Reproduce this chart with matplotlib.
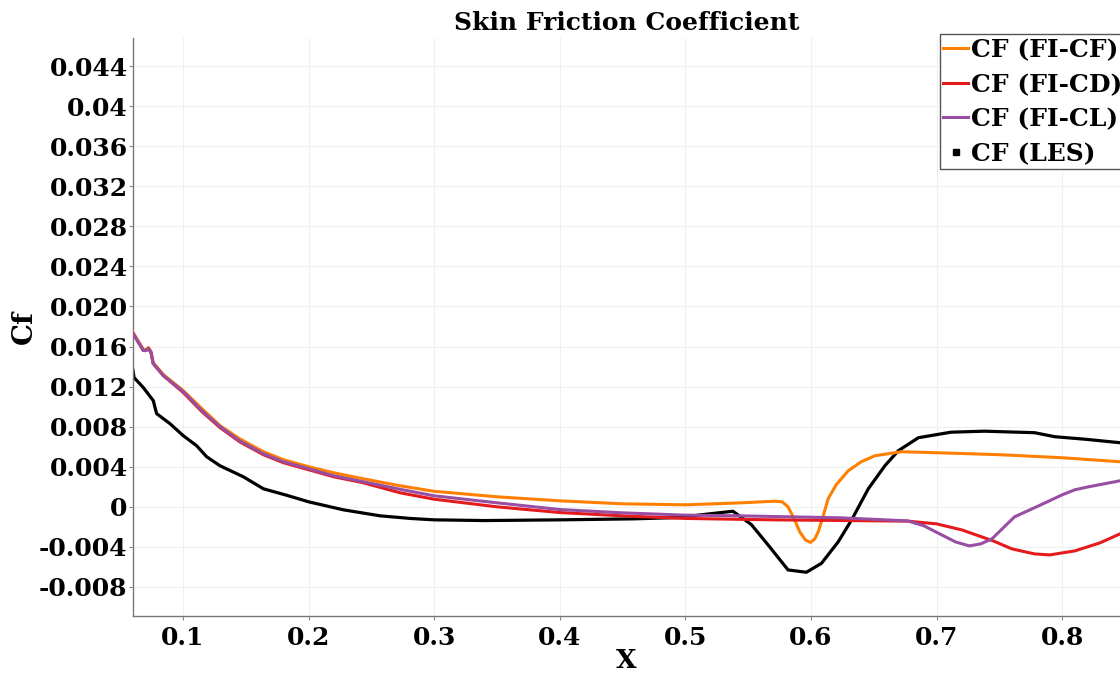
import matplotlib
matplotlib.use("Agg")
import matplotlib.pyplot as plt
from matplotlib.lines import Line2D

plt.rcParams['font.family'] = ['DejaVu Serif']
plt.rcParams['font.weight'] = 'bold'

# FI-CF
x_cf = [0.0602, 0.0684, 0.0705, 0.0724, 0.0745, 0.0762, 0.0843, 0.1002, 0.115, 0.1295,
        0.145, 0.164, 0.18, 0.2, 0.22, 0.2436, 0.2728, 0.3, 0.35, 0.4, 0.45, 0.5, 0.5444,
        0.571, 0.577, 0.5817, 0.587, 0.591, 0.5955, 0.5995, 0.603, 0.6057, 0.6095, 0.6136,
        0.62, 0.6296, 0.64, 0.6508, 0.672, 0.7, 0.751, 0.8, 0.846]
cf_cf = [0.0174, 0.0157, 0.0157, 0.0159, 0.0155, 0.0144, 0.0132, 0.0116, 0.0098, 0.0081,
         0.0068, 0.0055, 0.0047, 0.0040, 0.0034, 0.0028, 0.0021, 0.00155, 0.0010, 0.0006, 0.0003, 0.0002, 0.0004,
         0.00056, 0.0005, 0.0000, -0.0013, -0.0025, -0.0033, -0.00355, -0.0032, -0.0025, -0.0010, 0.0008,
         0.0022, 0.0036, 0.0045, 0.0051, 0.0055, 0.0054, 0.0052, 0.0049, 0.0045]

# FI-CD
x_cd = [0.0602, 0.0684, 0.0705, 0.0724, 0.0745, 0.0762, 0.0843, 0.1002, 0.115, 0.1295,
        0.145, 0.164, 0.18, 0.2, 0.22, 0.2436, 0.2728, 0.3, 0.35, 0.4, 0.45, 0.5, 0.571,
        0.677, 0.7, 0.72, 0.745, 0.76, 0.778, 0.79, 0.81, 0.83, 0.846]
cf_cd = [0.0173, 0.0156, 0.0156, 0.0158, 0.0154, 0.0143, 0.0131, 0.0114, 0.0095, 0.0079,
         0.0065, 0.0052, 0.0044, 0.0037, 0.0030, 0.0024, 0.0014, 0.00076, 0.0000, -0.00057, -0.0009, -0.00116, -0.0013,
         -0.00143, -0.0017, -0.0023, -0.0034, -0.0042, -0.0047, -0.0048, -0.0044, -0.0036, -0.0027]

# FI-CL
x_cl = [0.0602, 0.0684, 0.0705, 0.0724, 0.0745, 0.0762, 0.0843, 0.1002, 0.115, 0.1295,
        0.145, 0.164, 0.18, 0.2, 0.22, 0.2436, 0.2728, 0.3, 0.35, 0.4, 0.45, 0.5, 0.544,
        0.624, 0.677, 0.69, 0.704, 0.715, 0.726, 0.735, 0.744, 0.762, 0.783, 0.8, 0.81,
        0.821, 0.846]
cf_cl = [0.0173, 0.0156, 0.0156, 0.0158, 0.0154, 0.0143, 0.0131, 0.0115, 0.0096, 0.0080,
         0.0066, 0.0053, 0.0045, 0.0038, 0.0031, 0.0025, 0.00175, 0.0011, 0.0004, -0.00027, -0.0006, -0.00083, -0.0009,
         -0.0011, -0.0014, -0.0019, -0.0028, -0.0035, -0.0039, -0.0037, -0.0032, -0.0010, 0.0002, 0.0012, 0.0017,
         0.0020, 0.0026]

# LES
x_les = [0.0602, 0.061, 0.0684, 0.0763, 0.0777, 0.079, 0.0896, 0.1002, 0.1108, 0.1188,
         0.1294, 0.148, 0.164, 0.1826, 0.2, 0.2277, 0.257, 0.281, 0.3, 0.34, 0.4, 0.459,
         0.4966, 0.512, 0.5378, 0.5524, 0.5658, 0.5817, 0.5963, 0.6083, 0.6216, 0.6322,
         0.6456, 0.6588, 0.6695, 0.6855, 0.7114, 0.738, 0.778, 0.794, 0.818, 0.846]
cf_les = [0.0136, 0.0129, 0.0119, 0.0106, 0.0099, 0.0093, 0.0083, 0.0071, 0.0061, 0.0050,
          0.0041, 0.0030, 0.0018, 0.00115, 0.0005, -0.0003, -0.0009, -0.00116, -0.0013, -0.00137, -0.0013, -0.0012,
          -0.00106, -0.0008, -0.00044, -0.00176, -0.0038, -0.0063, -0.00653, -0.00564, -0.0035, -0.00133,
          0.0018, 0.0041, 0.0056, 0.0069, 0.00745, 0.00755, 0.0074, 0.0070, 0.00675, 0.0064]

yticks = [-0.008, -0.004, 0, 0.004, 0.008, 0.012, 0.016, 0.020, 0.024, 0.028, 0.032, 0.036, 0.04, 0.044]
ytick_labels = ['-0.008', '-0.004', '0', '0.004', '0.008', '0.012', '0.016', '0.020',
                '0.024', '0.028', '0.032', '0.036', '0.04', '0.044']
xticks = [0.1, 0.2, 0.3, 0.4, 0.5, 0.6, 0.7, 0.8]

c_cf, c_cd, c_cl = '#ff7f00', '#e41a1c', '#984ea3'

fig = plt.figure(figsize=(11.2, 6.78), dpi=100)
ax = fig.add_axes([0.1188, 0.0914, 0.8812, 0.8526])

ax.plot(x_les, cf_les, color='black', lw=2.3, zorder=2)
ax.plot(x_cf, cf_cf, color=c_cf, lw=2.2, zorder=3)
ax.plot(x_cd, cf_cd, color=c_cd, lw=2.2, zorder=3)
ax.plot(x_cl, cf_cl, color=c_cl, lw=2.2, zorder=4)

ax.set_xlim(0.0602, 0.846)
ax.set_ylim(-0.0109, 0.0468)
ax.set_xticks(xticks)
ax.set_xticklabels([f'{v:g}' for v in xticks])
ax.set_yticks(yticks)
ax.set_yticklabels(ytick_labels)
ax.tick_params(labelsize=18, length=3, width=0.8, color='#888888')
ax.tick_params(axis='y', pad=1)
ax.tick_params(axis='x', pad=4)
ax.grid(True, color='#f0f0f0', lw=0.8)
ax.set_axisbelow(True)
for s in ('top', 'right'):
    ax.spines[s].set_visible(False)
for s in ('left', 'bottom'):
    ax.spines[s].set_color('#777777')
    ax.spines[s].set_linewidth(1.0)

ax.set_title('Skin Friction Coefficient', fontsize=18, fontweight='bold', pad=6)
ax.set_xlabel('X', fontsize=19, fontweight='bold', labelpad=-1)
ax.set_ylabel('Cf', fontsize=20, fontweight='bold', labelpad=1)

handles = [Line2D([], [], color=c_cf, lw=2.2),
           Line2D([], [], color=c_cd, lw=2.2),
           Line2D([], [], color=c_cl, lw=2.2),
           Line2D([], [], color='black', ls='none', marker='s', markersize=5)]
labels = ['CF (FI-CF)', 'CF (FI-CD)', 'CF (FI-CL)', 'CF (LES)']
leg = ax.legend(handles, labels, loc='upper right', bbox_to_anchor=(1.006, 1.006),
                fontsize=18, frameon=True, fancybox=False, borderaxespad=0,
                borderpad=0.15, handlelength=1.0, handletextpad=0.1, labelspacing=0.42)
leg.get_frame().set_edgecolor('#555555')
leg.get_frame().set_linewidth(1.0)
leg.get_frame().set_alpha(1.0)

fig.savefig('out.png', dpi=100)
